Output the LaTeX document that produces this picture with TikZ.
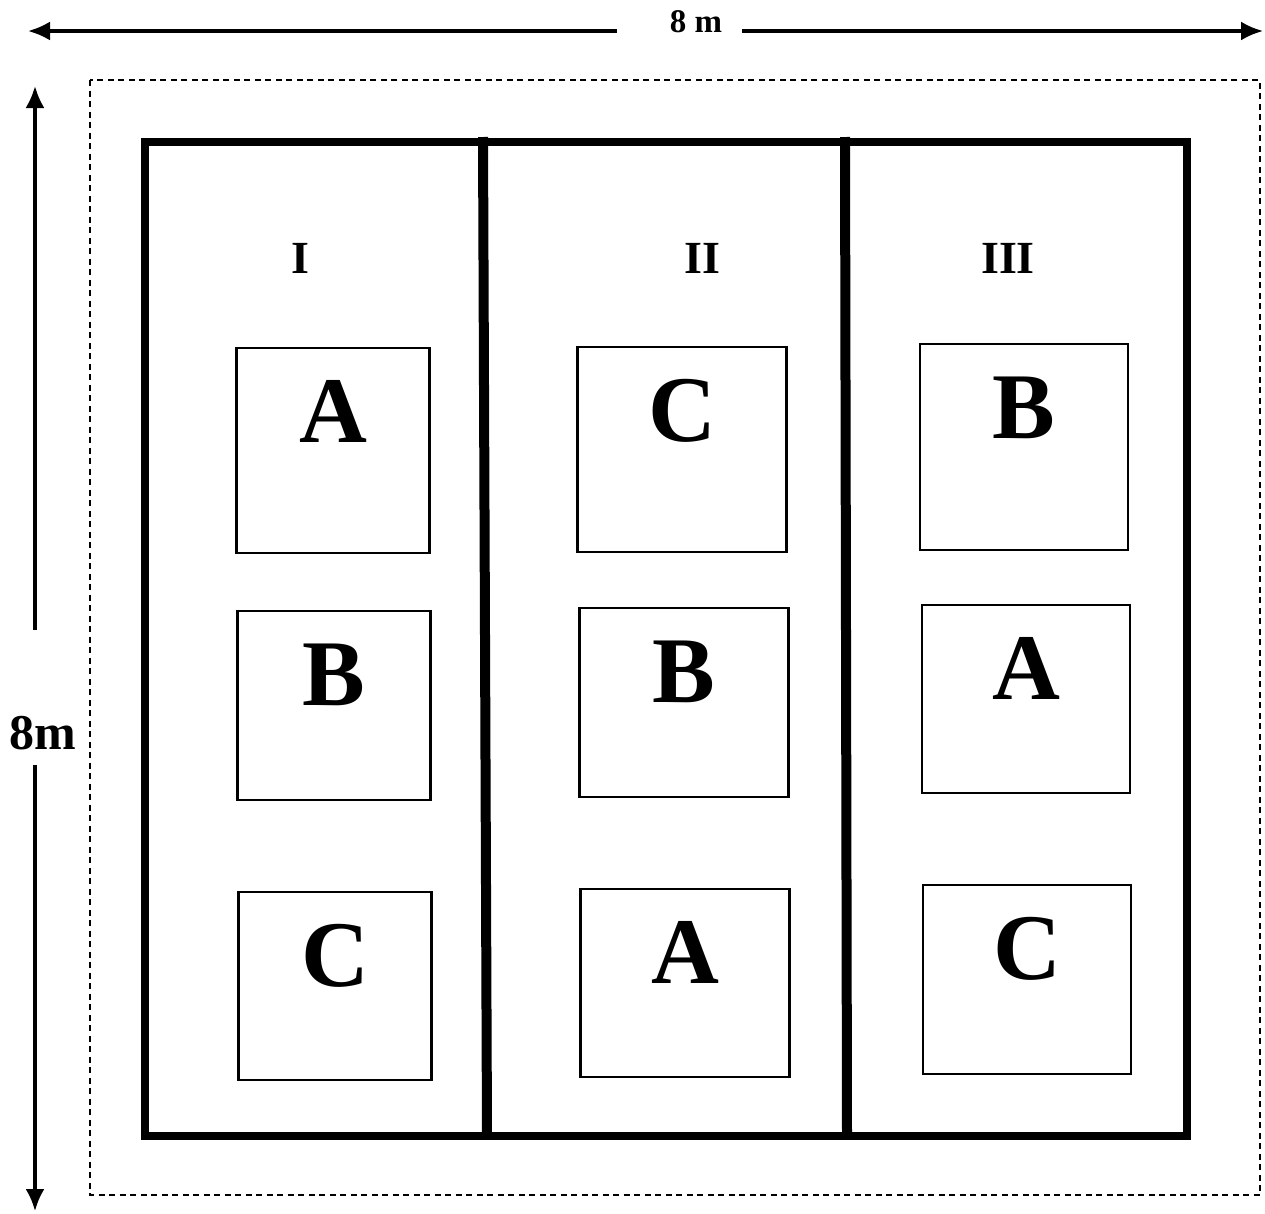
\documentclass[tikz,border=0pt]{standalone}
\usepackage{fontspec}
\setmainfont{Liberation Serif}
\usetikzlibrary{arrows.meta}

\begin{document}
\begin{tikzpicture}[x=1pt, y=-1pt,
  plotbox/.style={draw, line width=2.4pt, inner sep=0pt},
  trt/.style={font=\fontsize{94}{94}\selectfont\bfseries, inner sep=0pt, anchor=base},
  blk/.style={font=\fontsize{46}{46}\selectfont\bfseries, inner sep=0pt, anchor=base},
  dimlbl/.style={font=\bfseries, inner sep=0pt},
  dimline/.style={line width=3.2pt, -{Latex[length=22pt,width=19pt]}},
]
\useasboundingbox (0,0) rectangle (1265,1213);
% border row and field
\draw[line width=2.8pt, dash pattern=on 6pt off 4.5pt] (90,80) rectangle (1260,1195);
\draw[line width=8pt] (145,142) rectangle (1187,1136);
\draw[line width=10pt] (483,137) -- (487,1136);
\draw[line width=10pt] (845,137) -- (847,1136);
% blocks
\node[blk] (b1) at (300,273) {I};
\node[blk] (b2) at (702,273) {II};
\node[blk] (b3) at (1008,273) {III};
% plots: centre x / width / top / bottom / letter / name
\foreach \x/\w/\t/\b/\l/\n in {
  333/193/348/553/A/p11, 334/193/611/800/B/p12, 335/193/892/1080/C/p13,
  682/209/347/552/C/p21, 684/209/608/797/B/p22, 685/209/889/1077/A/p23,
  1024/208/344/550/B/p31, 1026/208/605/793/A/p32, 1027/208/885/1074/C/p33} {
  \node[plotbox, minimum width=\w pt, minimum height={(\b-\t)*1pt}] (\n) at (\x,{(\t+\b)/2}) {};
  \node[trt] (\n l) at (\x,\t+94) {\l};
}
% dimensions
\node[dimlbl, font=\fontsize{33}{33}\selectfont\bfseries] (wd) at (696,22) {8 m};
\coordinate (wdL) at (28,31);
\coordinate (wdR) at (1263,31);
\draw[dimline] ([xshift=-53pt]wd.west |- wdL) -- (wdL);
\draw[dimline] ([xshift=20pt]wd.east |- wdR) -- (wdR);
\node[dimlbl, font=\fontsize{50}{50}\selectfont\bfseries] (ht) at (43,733) {8m};
\coordinate (htT) at (35,86);
\coordinate (htB) at (35,1211);
\draw[dimline] (35,630) -- (htT);
\draw[dimline] (35,765) -- (htB);
\end{tikzpicture}
\end{document}
